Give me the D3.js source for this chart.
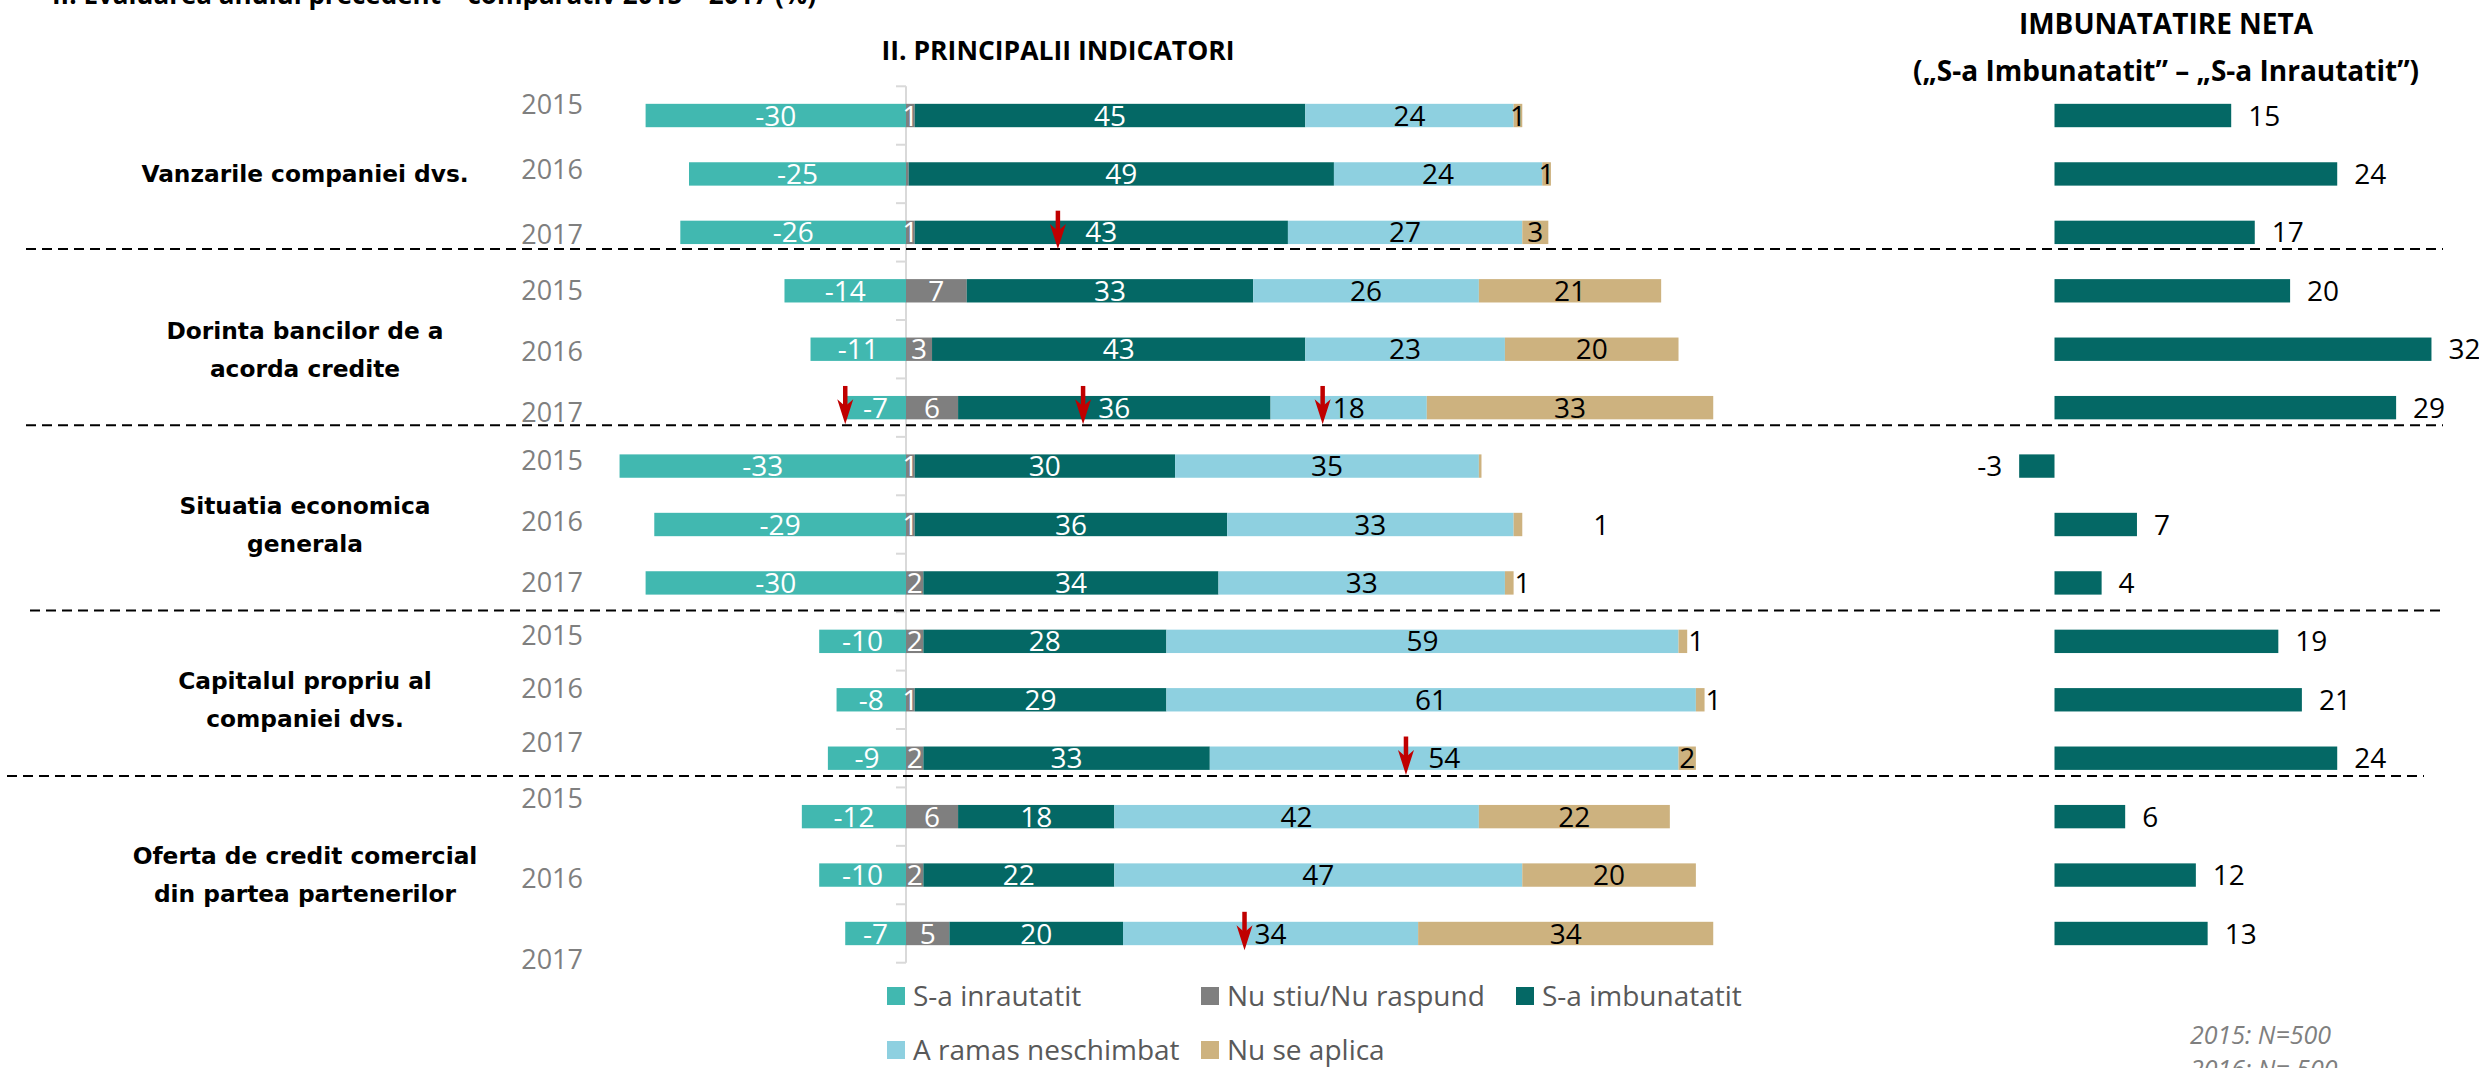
<!DOCTYPE html>
<html>
<head>
<meta charset="utf-8">
<script src="https://cdn.jsdelivr.net/npm/d3@7/dist/d3.min.js"></script>
<style>
  html, body { margin: 0; padding: 0; background: #ffffff; overflow: hidden; }
  svg { display: block; }
</style>
</head>
<body>
<svg id="chart" width="2479" height="1068"></svg>
<script>
// ---------------- DATA ----------------
const categories = [
  ["Vanzarile companiei dvs."],
  ["Dorinta bancilor de a", "acorda credite"],
  ["Situatia economica", "generala"],
  ["Capitalul propriu al", "companiei dvs."],
  ["Oferta de credit comercial", "din partea partenerilor"]
];
const years = ["2015", "2016", "2017"];
const seriesNames = ["S-a inrautatit", "Nu stiu/Nu raspund", "S-a imbunatatit", "A ramas neschimbat", "Nu se aplica"];

// one value per row (category x year), in row order
const inrautatit  = [-30, -25, -26, -14, -11, -7, -33, -29, -30, -10, -8, -9, -12, -10, -7];
const nuStiu      = [1, 0.3, 1, 7, 3, 6, 1, 1, 2, 2, 1, 2, 6, 2, 5];
const imbunatatit = [45, 49, 43, 33, 43, 36, 30, 36, 34, 28, 29, 33, 18, 22, 20];
const neschimbat  = [24, 24, 27, 26, 23, 18, 35, 33, 33, 59, 61, 54, 42, 47, 34];
const nuSeAplica  = [1, 1, 3, 21, 20, 33, 0.3, 1, 1, 1, 1, 2, 22, 20, 34];
const netImprovement = [15, 24, 17, 20, 32, 29, -3, 7, 4, 19, 21, 24, 6, 12, 13];

// red "decrease" arrows: row index and position in data units
const arrowRows   = [2, 5, 5, 5, 11, 14];
const arrowValues = [17.5, -7, 20.4, 48, 57.6, 39];

const mainTitle = "II. PRINCIPALII INDICATORI";
const netTitleLines = ["IMBUNATATIRE NETA", "(\u201ES-a Imbunatatit\u201D \u2013 \u201ES-a Inrautatit\u201D)"];
const topTitle = "II. Evaluarea anului precedent \u2013 comparativ 2015 \u2013 2017 (%)";
const notes = ["2015: N=500", "2016: N= 500"];

// ---------------- LAYOUT / STYLE ----------------
const colors = ["#41b8b0", "#7f7f7f", "#046865", "#8ed0e0", "#cdb27f"];
const labelColors = ["#ffffff", "#ffffff", "#ffffff", "#000000", "#000000"];
const series = [inrautatit, nuStiu, imbunatatit, neschimbat, nuSeAplica];

const svg = d3.select("#chart");

const rows = d3.range(categories.length * years.length);
const y = d3.scaleBand().domain(rows).range([86.3, 962.7]).paddingInner(0.6).paddingOuter(0.3);
const x = d3.scaleLinear().domain([-40, 100]).range([906 - 40 * 8.68, 906 + 100 * 8.68]);
const xn = d3.scaleLinear().domain([-5, 35]).range([2054.5 - 5 * 11.78, 2054.5 + 35 * 11.78]);

const labelFont = "'Open Sans', sans-serif";

// top (cut-off) title
svg.append("text").attr("x", 52).attr("y", 4)
  .attr("font-family", labelFont).attr("font-weight", 700).attr("font-size", 26)
  .attr("fill", "#000").text(topTitle);

// main title
svg.append("text").attr("x", 1058).attr("y", 60).attr("text-anchor", "middle")
  .attr("font-family", labelFont).attr("font-weight", 700).attr("font-size", 26.5)
  .attr("fill", "#000").text(mainTitle);

// net title
netTitleLines.forEach((t, i) => {
  svg.append("text").attr("x", 2166).attr("y", 34 + i * 47).attr("text-anchor", "middle")
    .attr("font-family", labelFont).attr("font-weight", 700).attr("font-size", 28)
    .attr("fill", "#000").text(t);
});

// zero axis with category tick marks
const axisG = svg.append("g").attr("transform", `translate(${x(0)},0)`);
axisG.append("line").attr("x1", 0).attr("x2", 0)
  .attr("y1", y.range()[0]).attr("y2", y.range()[1])
  .attr("stroke", "#d9d9d9").attr("stroke-width", 2);
const boundaries = rows.map(r => y(r) - y.step() * y.paddingInner() / 2).concat([y.range()[1]]);
axisG.selectAll("line.tick").data(boundaries).join("line").attr("class", "tick")
  .attr("x1", -10).attr("x2", 0).attr("y1", d => d).attr("y2", d => d)
  .attr("stroke", "#d9d9d9").attr("stroke-width", 2);

// stacked segments
const stackData = rows.map(r => {
  const segs = [];
  segs.push({ s: 0, r, x0: series[0][r], x1: 0, v: series[0][r] });
  let acc = 0;
  for (let s = 1; s < series.length; s++) {
    const v = series[s][r];
    segs.push({ s, r, x0: acc, x1: acc + v, v });
    acc += v;
  }
  return segs;
}).flat();

svg.append("g").selectAll("rect").data(stackData).join("rect")
  .attr("x", d => x(Math.min(d.x0, d.x1)))
  .attr("width", d => Math.abs(x(d.x1) - x(d.x0)))
  .attr("y", d => y(d.r)).attr("height", y.bandwidth())
  .attr("fill", d => colors[d.s]);

// segment labels
const labelNudge = { 7: 70 }; // manual label moves (px) for last segment of some rows
svg.append("g").selectAll("text").data(stackData.filter(d => Math.abs(d.v) >= 0.5)).join("text")
  .attr("x", d => {
    const w = Math.abs(x(d.x1) - x(d.x0));
    if (d.s === 4 && w < 15 && d.r !== 0 && d.r !== 1) return x(d.x1) + 9 + (labelNudge[d.r] || 0);
    return (x(d.x0) + x(d.x1)) / 2;
  })
  .attr("y", d => y(d.r) + y.bandwidth() / 2)
  .attr("dy", "0.36em").attr("text-anchor", "middle")
  .attr("font-family", labelFont).attr("font-size", 28)
  .attr("fill", d => labelColors[d.s])
  .text(d => String(Math.round(d.v)));

// year labels (category axis text), evenly spread within each group's text block
const yearLabelRanges = [[104, 234], [290, 412], [460, 582], [635, 742], [798, 959]];
categories.forEach((c, gi) => {
  const yp = d3.scalePoint().domain(years).range(yearLabelRanges[gi]);
  svg.append("g").selectAll("text").data(years).join("text")
    .attr("x", 583).attr("y", d => yp(d)).attr("dy", "0.36em").attr("text-anchor", "end")
    .attr("font-family", labelFont).attr("font-size", 27).attr("fill", "#7f7f7f")
    .text(d => d);
});

// category labels
categories.forEach((lines, gi) => {
  const cy = y(gi * 3 + 1) + y.bandwidth() / 2;
  const n = lines.length;
  lines.forEach((t, li) => {
    svg.append("text").attr("x", 305).attr("y", cy + (li - (n - 1) / 2) * 38)
      .attr("dy", "0.36em").attr("text-anchor", "middle")
      .attr("font-family", "'DejaVu Sans', sans-serif").attr("font-weight", 700)
      .attr("font-size", 23.3).attr("fill", "#000").text(t);
  });
});

// dashed separators
const sepAfter = [2, 5, 8, 11];
const sepOffset = [5, 6, 16, 6];
const sepX = [[26, 2443], [26, 2443], [30, 2446], [7, 2424]];
svg.append("g").selectAll("line").data(sepAfter).join("line")
  .attr("x1", (d, i) => sepX[i][0]).attr("x2", (d, i) => sepX[i][1])
  .attr("y1", (d, i) => y(d) + y.bandwidth() + sepOffset[i])
  .attr("y2", (d, i) => y(d) + y.bandwidth() + sepOffset[i])
  .attr("stroke", "#000").attr("stroke-width", 2).attr("stroke-dasharray", "10,6");

// net improvement bars
svg.append("g").selectAll("rect").data(rows).join("rect")
  .attr("x", r => xn(Math.min(0, netImprovement[r])))
  .attr("width", r => Math.abs(xn(netImprovement[r]) - xn(0)))
  .attr("y", r => y(r)).attr("height", y.bandwidth())
  .attr("fill", colors[2]);
svg.append("g").selectAll("text").data(rows).join("text")
  .attr("x", r => netImprovement[r] >= 0 ? xn(netImprovement[r]) + 17 : xn(netImprovement[r]) - 17)
  .attr("y", r => y(r) + y.bandwidth() / 2).attr("dy", "0.36em")
  .attr("text-anchor", r => netImprovement[r] >= 0 ? "start" : "end")
  .attr("font-family", labelFont).attr("font-size", 28).attr("fill", "#000")
  .text(r => String(netImprovement[r]));

// red arrows
const arrowG = svg.append("g");
arrowRows.forEach((r, i) => {
  const ax = x(arrowValues[i]);
  const top = y(r) - 10, tip = y(r) + y.bandwidth() + 5;
  arrowG.append("line").attr("x1", ax).attr("x2", ax).attr("y1", top).attr("y2", tip - 14)
    .attr("stroke", "#c00000").attr("stroke-width", 4.5);
  arrowG.append("path")
    .attr("d", `M${ax - 8},${tip - 25} L${ax},${tip - 18} L${ax + 8},${tip - 25} L${ax},${tip} Z`)
    .attr("fill", "#c00000");
});

// legend
const legendPos = [[887, 996], [1201, 996], [1516, 996], [887, 1050], [1201, 1050]];
const lg = svg.append("g").selectAll("g").data(seriesNames).join("g")
  .attr("transform", (d, i) => `translate(${legendPos[i][0]},${legendPos[i][1]})`);
lg.append("rect").attr("x", 0).attr("y", -9).attr("width", 18).attr("height", 18)
  .attr("fill", (d, i) => colors[i]);
lg.append("text").attr("x", 26).attr("y", 0).attr("dy", "0.34em")
  .attr("font-family", labelFont).attr("font-size", 28).attr("fill", "#595959")
  .text(d => d);

// sample notes
notes.forEach((t, i) => {
  svg.append("text").attr("x", 2190).attr("y", 1044 + i * 34)
    .attr("font-family", labelFont).attr("font-style", "italic").attr("font-size", 25)
    .attr("fill", "#7f7f7f").text(t);
});
</script>
</body>
</html>
